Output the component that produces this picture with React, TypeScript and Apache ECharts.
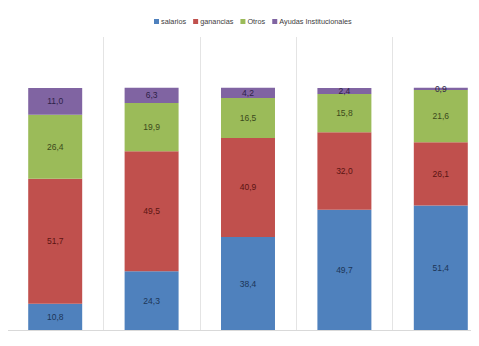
import React, { useEffect, useRef } from "react";
import * as echarts from "echarts";

const categories = ["1", "2", "3", "4", "5"];
const salarios = [10.8, 24.3, 38.4, 49.7, 51.4];
const ganancias = [51.7, 49.5, 40.9, 32.0, 26.1];
const otros = [26.4, 19.9, 16.5, 15.8, 21.6];
const ayudas = [11.0, 6.3, 4.2, 2.4, 0.9];

const FONT = "'Liberation Sans', Arial, sans-serif";

const fmt = (v: number) => v.toFixed(1).replace(".", ",");

function makeSeries(name: string, data: number[], color: string, labelColor: string) {
  return {
    name,
    type: "bar" as const,
    stack: "total",
    barWidth: "56%",
    data,
    itemStyle: { color },
    label: {
      show: true,
      position: "inside" as const,
      color: labelColor,
      fontFamily: FONT,
      fontSize: 8.5,
      formatter: (p: any) => fmt(p.value),
    },
  };
}

export default function App() {
  const ref = useRef<HTMLDivElement>(null);

  useEffect(() => {
    if (!ref.current) return;
    const chart = echarts.init(ref.current, null, { renderer: "svg" });
    chart.setOption({
      animation: false,
      backgroundColor: "#ffffff",
      legend: {
        top: 13,
        left: 149,
        icon: "rect",
        itemWidth: 5,
        itemHeight: 5,
        itemGap: 7,
        textStyle: { fontFamily: FONT, fontSize: 7.3, color: "#404040", padding: [0, 0, 0, -3] },
        data: ["salarios", "ganancias", "Otros", "Ayudas Institucionales"],
      },
      grid: { left: 7, right: 0, top: 37, bottom: 15, containLabel: false },
      xAxis: {
        type: "category",
        data: categories,
        axisLine: { show: true, lineStyle: { color: "#d9d9d9" } },
        axisTick: { show: false },
        axisLabel: { color: "#595959", fontFamily: FONT, fontSize: 8.5, margin: 7 },
        splitLine: { show: true, lineStyle: { color: "#e4e4e4" } },
      },
      yAxis: {
        type: "value",
        min: 0,
        max: 121,
        show: false,
        splitLine: { show: false },
      },
      series: [
        makeSeries("salarios", salarios, "#4F81BD", "#1c3557"),
        makeSeries("ganancias", ganancias, "#C0504D", "#5a1412"),
        makeSeries("Otros", otros, "#9BBB59", "#3b4a1c"),
        makeSeries("Ayudas Institucionales", ayudas, "#8064A2", "#2e1f48"),
      ],
    });
    return () => chart.dispose();
  }, []);

  return (
    <div style={{ width: 479, height: 346, margin: -8, overflow: "hidden", position: "relative" }}>
      <div ref={ref} style={{ width: 489, height: 346 }} />
    </div>
  );
}
